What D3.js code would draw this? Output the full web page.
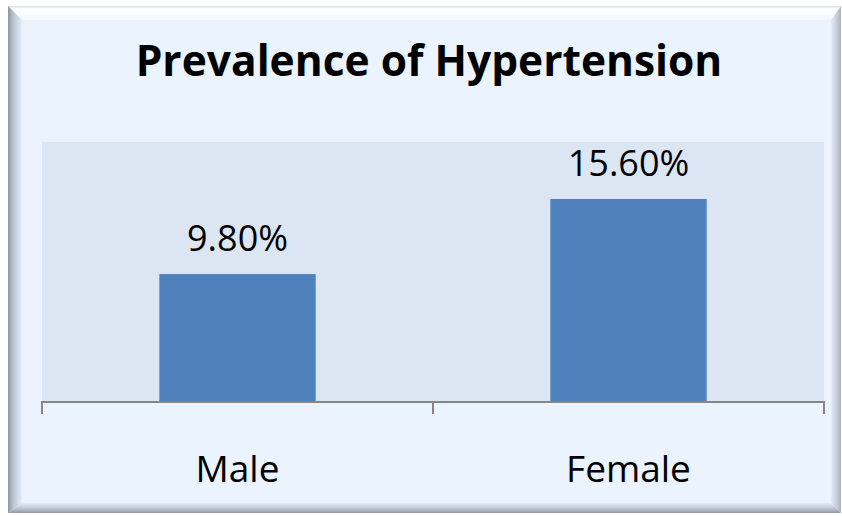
<!DOCTYPE html>
<html><head><meta charset="utf-8">
<script src="https://cdn.jsdelivr.net/npm/d3@7"></script>
<style>body{margin:0;background:#fff}svg{display:block}</style>
</head><body>
<script>
const categories = ["Male", "Female"];
const values = [9.8, 15.6];
const labels = ["9.80%", "15.60%"];
const title = "Prevalence of Hypertension";

const W = 842, H = 516;
const svg = d3.select("body").append("svg").attr("width", W).attr("height", H);
const defs = svg.append("defs");
function lg(id, x1, y1, x2, y2, stops) {
  const g = defs.append("linearGradient").attr("id", id)
    .attr("x1", x1).attr("y1", y1).attr("x2", x2).attr("y2", y2);
  stops.forEach(s => g.append("stop").attr("offset", s[0]).attr("stop-color", s[1]));
}
lg("gl", 0, 0, 1, 0, [[0, "#8c96a3"], [0.35, "#b8c3d0"], [1, "#e4eefa"]]);
lg("gt", 0, 0, 0, 1, [[0, "#d8dde3"], [0.2, "#ffffff"], [1, "#f2f7fe"]]);
lg("gr", 0, 0, 1, 0, [[0, "#e4eefa"], [0.6, "#c3ccd8"], [1, "#aab3bf"]]);
lg("gb", 0, 0, 0, 1, [[0, "#e4eefa"], [0.6, "#b9c2ce"], [1, "#8f98a4"]]);

const fx0 = 8, fy0 = 6, fx1 = 841, fy1 = 513, b = 14;
svg.append("rect").attr("x", fx0).attr("y", fy0).attr("width", fx1 - fx0).attr("height", fy1 - fy0).attr("fill", "#eaf3fe");
svg.append("polygon").attr("points", `${fx0},${fy0} ${fx1},${fy0} ${fx1-b+4},${fy0+b} ${fx0+b},${fy0+b}`).attr("fill", "url(#gt)");
svg.append("polygon").attr("points", `${fx0},${fy0} ${fx0+b},${fy0+b} ${fx0+b},${fy1-b+4} ${fx0},${fy1}`).attr("fill", "url(#gl)");
svg.append("polygon").attr("points", `${fx1},${fy0} ${fx1},${fy1} ${fx1-b+4},${fy1-b+4} ${fx1-b+4},${fy0+b}`).attr("fill", "url(#gr)");
svg.append("polygon").attr("points", `${fx0},${fy1} ${fx1},${fy1} ${fx1-b+4},${fy1-b+4} ${fx0+b},${fy1-b+4}`).attr("fill", "url(#gb)");

const pl = 42, pr = 824, pt = 142, pb = 401;
const x = d3.scaleBand().domain(categories).range([pl, pr]).paddingInner(0.6).paddingOuter(0.3);
const y = d3.scaleLinear().domain([0, 20]).range([pb, pt]);

svg.append("rect").attr("x", pl).attr("y", pt).attr("width", pr - pl).attr("height", pb - pt).attr("fill", "#dce6f2");

svg.selectAll("rect.bar").data(values).join("rect").attr("class", "bar")
  .attr("x", (d, i) => x(categories[i])).attr("width", x.bandwidth())
  .attr("y", d => y(d)).attr("height", d => y(0) - y(d)).attr("fill", "#4f81bd");

const font = "'Open Sans', sans-serif";
svg.selectAll("text.lbl").data(values).join("text").attr("class", "lbl")
  .attr("x", (d, i) => x(categories[i]) + x.bandwidth() / 2)
  .attr("y", d => y(d) - 23)
  .attr("text-anchor", "middle").attr("font-family", font).attr("font-size", 36).attr("fill", "#000")
  .text((d, i) => labels[i]);

const xAxisScale = d3.scalePoint().domain([0, 1, 2]).range([pl, pr]);
const ax = svg.append("g").attr("transform", `translate(0,${pb + 1})`);
ax.append("line").attr("x1", pl).attr("x2", pr + 1).attr("stroke", "#868686").attr("stroke-width", 2);
ax.selectAll("line.tk").data([0, 1, 2]).join("line").attr("class", "tk")
  .attr("x1", d => xAxisScale(d)).attr("x2", d => xAxisScale(d))
  .attr("y1", -1).attr("y2", 12).attr("stroke", "#868686").attr("stroke-width", 2);
svg.selectAll("text.cat").data(categories).join("text").attr("class", "cat")
  .attr("x", d => x(d) + x.bandwidth() / 2).attr("y", 482)
  .attr("text-anchor", "middle").attr("font-family", font).attr("font-size", 37).attr("fill", "#000")
  .text(d => d);

svg.append("text").attr("x", 429).attr("y", 76).attr("text-anchor", "middle")
  .attr("font-family", font).attr("font-weight", "bold").attr("font-size", 42.5).attr("fill", "#000")
  .text(title);
</script>
</body></html>
